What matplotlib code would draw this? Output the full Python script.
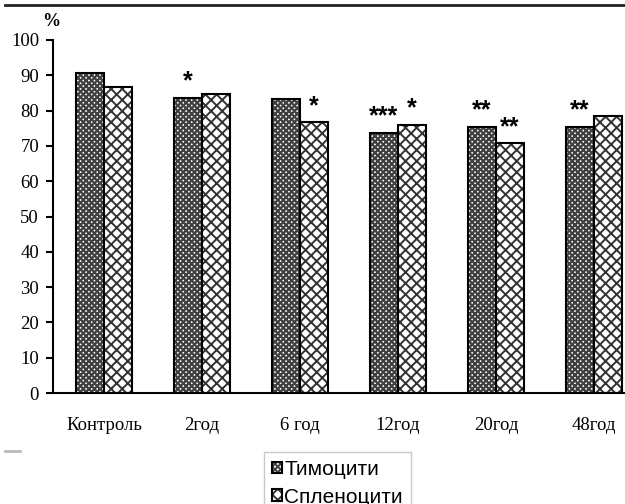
import numpy as np
import matplotlib
matplotlib.use("Agg")
import matplotlib.pyplot as plt
from matplotlib.lines import Line2D

categories = ["Контроль", "2год", "6 год", "12год", "20год", "48год"]
thymocytes = [90.7, 83.6, 83.2, 73.7, 75.4, 75.4]
splenocytes = [86.8, 84.6, 76.7, 76.0, 70.7, 78.5]
thymo_stars = ["", "*", "", "***", "**", "**"]
spleno_stars = ["", "", "*", "*", "**", ""]
yticks = [0, 10, 20, 30, 40, 50, 60, 70, 80, 90, 100]

serif = "Liberation Serif"
sans = "Liberation Sans"

fig = plt.figure(figsize=(6.25, 5.04), dpi=100)
ax = fig.add_axes([53 / 625, 1 - 393 / 504, 1 - 53 / 625, (393 - 40) / 504])

x = np.arange(len(categories))
w = 0.286
plt.rcParams['hatch.linewidth'] = 1.6
b1 = ax.bar(x - w / 2, thymocytes, w, facecolor="white", edgecolor="black",
            linewidth=1.5, hatch="xxxxxx", label="Тимоцити")
plt.rcParams['hatch.linewidth'] = 1.4
b2 = ax.bar(x + w / 2, splenocytes, w, facecolor="white", edgecolor="black",
            linewidth=1.5, hatch="xxx", label="Спленоцити")
for p in b1:
    p._hatch_color = (0.25, 0.25, 0.25, 1.0)
for p in b2:
    p._hatch_color = (0.2, 0.2, 0.2, 1.0)

for xi, v, s in zip(x - w / 2, thymocytes, thymo_stars):
    if s:
        ax.annotate(s, (xi, v), xytext=(0, 3), textcoords="offset points",
                    ha="center", va="bottom", fontsize=18, fontweight="bold",
                    family=sans)
for xi, v, s in zip(x + w / 2, splenocytes, spleno_stars):
    if s:
        ax.annotate(s, (xi, v), xytext=(0, 3), textcoords="offset points",
                    ha="center", va="bottom", fontsize=18, fontweight="bold",
                    family=sans)

ax.set_xlim(-0.52, 5.316)
ax.set_ylim(0, 100)
ax.set_yticks(yticks)
ax.set_yticklabels([str(t) for t in yticks], family=serif, fontsize=13.5)
ax.set_xticks(x)
ax.set_xticklabels(categories, family=serif, fontsize=13.5)
ax.tick_params(axis="x", length=0, pad=17)
ax.tick_params(axis="y", length=5, width=1.5, pad=5, direction="out")
for s in ("top", "right"):
    ax.spines[s].set_visible(False)
ax.spines["left"].set_linewidth(1.5)
ax.spines["bottom"].set_linewidth(1.5)

fig.text(42 / 625, 1 - 22 / 504, "%", family=serif, fontsize=13,
         fontweight="bold", va="center", ha="left")

fig.add_artist(Line2D([5 / 625, 1], [1 - 5 / 504, 1 - 5 / 504],
                      color="#222222", linewidth=2))
fig.add_artist(Line2D([5 / 625, 20 / 625], [1 - 451 / 504, 1 - 451 / 504],
                      color="#bbbbbb", linewidth=2))

leg = fig.legend(handles=[b1, b2], loc="upper left",
                 bbox_to_anchor=(264 / 625, 1 - 452 / 504),
                 prop={"family": sans, "size": 15}, frameon=True,
                 fancybox=False, handlelength=0.5, handleheight=0.5,
                 handletextpad=0.1, borderpad=0.38, labelspacing=0.42,
                 borderaxespad=0)
leg.get_frame().set_edgecolor("#bbbbbb")
leg.get_frame().set_linewidth(1)

fig.savefig("out.png", dpi=100)
